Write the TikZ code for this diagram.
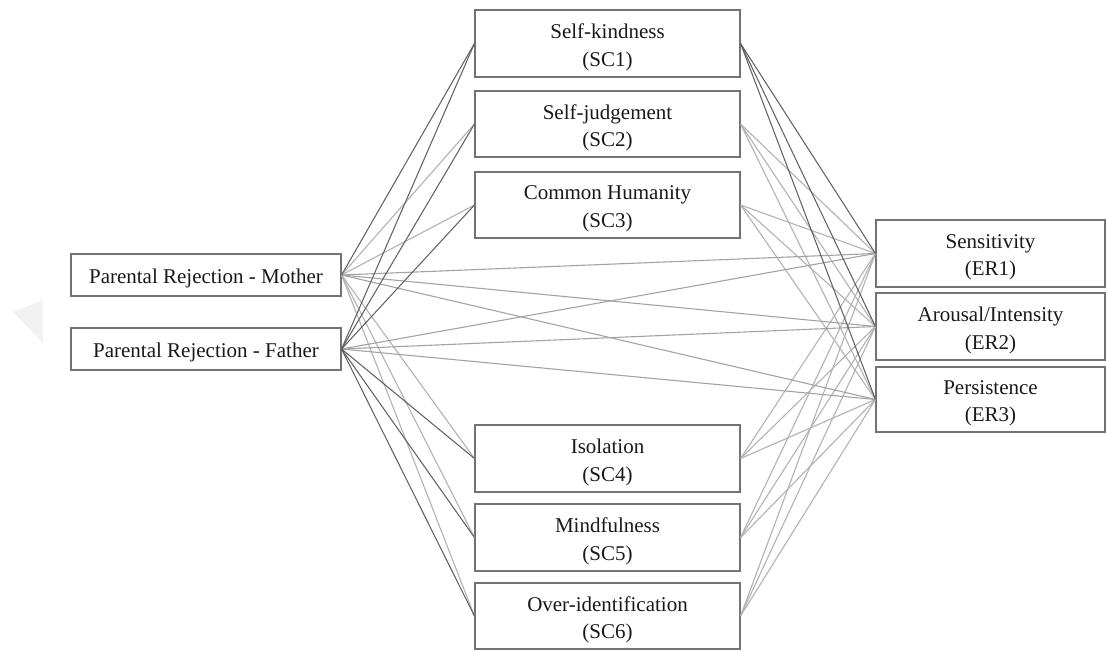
\documentclass[tikz,border=0pt]{standalone}
\usepackage{fontspec}
\setmainfont{Liberation Serif}
\newcommand\mkbox[6]{%
  \node[box,minimum width=#4,minimum height=#5] (#1) at (#2,#3) {};
  \node[txt] (#1t) at ([yshift=-4pt]#1.center) {#6};}
\begin{document}
\begin{tikzpicture}[x=1pt,y=-1pt,
  box/.style={draw=black!55,line width=1.1pt,fill=white,inner sep=0pt},
  txt/.style={inner sep=0pt,align=center,font=\fontsize{21}{27.5}\selectfont,text=black!90},
  dk/.style={draw=black!62,line width=1.05pt},
  lt/.style={draw=black!30,line width=1.1pt},
  md/.style={draw=black!36,line width=1.1pt}]
\useasboundingbox (0,0) rectangle (1107,650);
\fill[black!5] (13,312) -- (43,300) -- (43,343) -- cycle;
% boxes (without text yet, text placed after connectors)
\node[box,minimum width=270,minimum height=42] (M) at (206,275) {};
\node[box,minimum width=270,minimum height=42] (F) at (206,349) {};
\node[box,minimum width=265,minimum height=67] (S1) at (607.5,43.5) {};
\node[box,minimum width=265,minimum height=66] (S2) at (607.5,124) {};
\node[box,minimum width=265,minimum height=66] (S3) at (607.5,205) {};
\node[box,minimum width=265,minimum height=67] (S4) at (607.5,458.5) {};
\node[box,minimum width=265,minimum height=67] (S5) at (607.5,537.5) {};
\node[box,minimum width=265,minimum height=66] (S6) at (607.5,616) {};
\node[box,minimum width=229,minimum height=67] (E1) at (990.5,253.5) {};
\node[box,minimum width=229,minimum height=67] (E2) at (990.5,326.5) {};
\node[box,minimum width=229,minimum height=65] (E3) at (990.5,399.5) {};
% texts
\node[txt] (Mt) at ([yshift=-3.5pt]M.center) {Parental Rejection - Mother};
\node[txt] (Ft) at ([yshift=-3.5pt]F.center) {Parental Rejection - Father};
\node[txt] (S1t) at ([yshift=-4pt]S1.center) {Self-kindness\\(SC1)};
\node[txt] (S2t) at ([yshift=-4pt]S2.center) {Self-judgement\\(SC2)};
\node[txt] (S3t) at ([yshift=-4pt]S3.center) {Common Humanity\\(SC3)};
\node[txt] (S4t) at ([yshift=-4pt]S4.center) {Isolation\\(SC4)};
\node[txt] (S5t) at ([yshift=-4pt]S5.center) {Mindfulness\\(SC5)};
\node[txt] (S6t) at ([yshift=-4pt]S6.center) {Over-identification\\(SC6)};
\node[txt] (E1t) at ([yshift=-4pt]E1.center) {Sensitivity\\(ER1)};
\node[txt] (E2t) at ([yshift=-4pt]E2.center) {Arousal/Intensity\\(ER2)};
\node[txt] (E3t) at ([yshift=-4pt]E3.center) {Persistence\\(ER3)};
% light lines first
\foreach \s in {S2,S3,S4,S5,S6}{
  \foreach \e in {E1,E2,E3}{ \draw[lt] (\s.east) -- (\e.west); }
}
\foreach \s in {S2,S3,S4,S5,S6}{ \draw[lt] (M.east) -- (\s.west); }
\foreach \e in {E1,E2,E3}{
  \draw[md] (M.east) -- (\e.west);
  \draw[md] (F.east) -- (\e.west);
}
% dark lines
\draw[dk] (M.east) -- (S1.west);
\foreach \s in {S1,S2,S3,S4,S5,S6}{ \draw[dk] (F.east) -- (\s.west); }
\foreach \e in {E1,E2,E3}{ \draw[dk] (S1.east) -- (\e.west); }
\end{tikzpicture}
\end{document}
